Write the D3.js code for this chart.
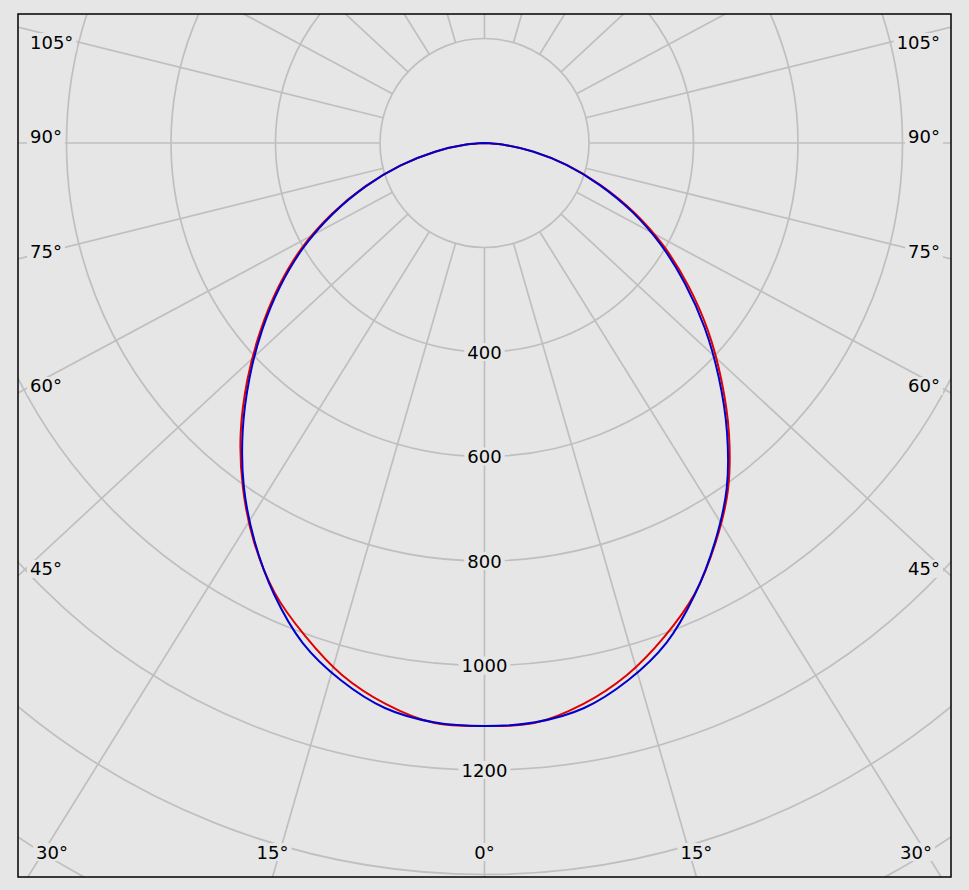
<!DOCTYPE html>
<html>
<head>
<meta charset="utf-8">
<script src="https://cdn.jsdelivr.net/npm/d3@7"></script>
<style>
  html, body { margin: 0; padding: 0; background: #e6e6e6; }
  svg { display: block; }
  text { font-family: "DejaVu Sans", Verdana, sans-serif; font-size: 18px; fill: #000; }
</style>
</head>
<body>
<svg id="chart" width="969" height="890"></svg>
<script>
// ---------- data ----------
const angles = [0, 5, 10, 15, 20, 25, 30, 35, 40, 45, 50, 55, 60, 65, 70, 75, 80, 85, 90];
// red plane (left half / right half), cd
const redLeft  = [1116, 1114, 1090, 1054, 1004, 950, 882, 806, 726, 642, 560, 482, 405, 323, 243, 167, 96, 35, 0];
const redRight = [1116, 1114, 1090, 1054, 1006, 952, 884, 812, 728, 641, 558, 476, 397, 317, 237, 164, 95, 34, 0];
// blue plane (left half / right half), cd
const blueLeft  = [1116, 1113, 1098, 1064, 1018, 953, 880, 803, 720, 636, 555, 477, 400, 320, 241, 166, 96, 35, 0];
const blueRight = [1116, 1113, 1098, 1064, 1018, 953, 882, 808, 722, 634, 550, 468, 390, 312, 234, 162, 94, 34, 0];

const ringValues = [200, 400, 600, 800, 1000, 1200, 1400, 1600, 1800];
const radialLabels = [400, 600, 800, 1000, 1200];
const spokeAngles = d3.range(0, 360, 15);
const angleLabels = [0, 15, 30, 45, 60, 75, 90, 105];

// ---------- layout ----------
const box = { left: 18, top: 14, right: 951, bottom: 877 };
const cx = (box.left + box.right) / 2;
const cy = 143;
const skew = 0.928; // vertical compression of the spoke directions in the original
const r = d3.scaleLinear().domain([0, 1200]).range([0, 627]);

const svg = d3.select("#chart");
const bg = "#e6e6e6";
const gridColor = "#bfbfbf";

svg.append("rect").attr("width", 969).attr("height", 890).attr("fill", bg);

svg.append("clipPath").attr("id", "clip")
  .append("rect")
  .attr("x", box.left).attr("y", box.top)
  .attr("width", box.right - box.left).attr("height", box.bottom - box.top);

const plot = svg.append("g").attr("clip-path", "url(#clip)");

// rings
plot.selectAll("circle.ring").data(ringValues).join("circle")
  .attr("class", "ring")
  .attr("cx", cx).attr("cy", cy).attr("r", d => r(d))
  .attr("fill", "none").attr("stroke", gridColor).attr("stroke-width", 1.7);

// spokes (direction: angle measured from straight down, positive to the right)
function dir(a) {
  const rad = a * Math.PI / 180;
  const dx = Math.sin(rad), dy = Math.cos(rad) * skew;
  const n = Math.hypot(dx, dy);
  return [dx / n, dy / n];
}
const r0 = r(ringValues[0]);
plot.selectAll("line.spoke").data(spokeAngles).join("line")
  .attr("class", "spoke")
  .attr("x1", a => cx + dir(a)[0] * r0)
  .attr("y1", a => cy + dir(a)[1] * r0)
  .attr("x2", a => cx + dir(a)[0] * 2000)
  .attr("y2", a => cy + dir(a)[1] * 2000)
  .attr("stroke", gridColor).attr("stroke-width", 1.7);

// curves
function polarPoints(left, right) {
  const pts = [];
  for (let i = angles.length - 1; i >= 0; i--) {
    const a = -angles[i] * Math.PI / 180;
    pts.push([cx + Math.sin(a) * r(left[i]), cy + Math.cos(a) * r(left[i])]);
  }
  for (let i = 1; i < angles.length; i++) {
    const a = angles[i] * Math.PI / 180;
    pts.push([cx + Math.sin(a) * r(right[i]), cy + Math.cos(a) * r(right[i])]);
  }
  return pts;
}
const line = d3.line().curve(d3.curveCatmullRom.alpha(0.5));

// labels with background
const labelLayer = svg.append("g");
function addLabel(x, y, txt, anchor) {
  const g = labelLayer.append("g");
  const rect = g.append("rect").attr("fill", bg);
  const t = g.append("text").attr("x", x).attr("y", y + 6.5)
    .attr("text-anchor", anchor).text(txt);
  const bb = t.node().getBBox();
  rect.attr("x", bb.x - 3).attr("y", y - 9).attr("width", bb.width + 6).attr("height", 18);
}

// radial value labels along the 0° spoke
radialLabels.forEach(v => addLabel(cx, cy + r(v), String(v), "middle"));

// angle labels where the spokes meet the frame
angleLabels.forEach(a => {
  [-1, 1].forEach(side => {
    if (a === 0 && side === 1) return;
    const [dx0, dy] = dir(a);
    const dx = dx0 * side;
    const ts = [];
    if (dx < 0) ts.push((box.left - cx) / dx);
    if (dx > 0) ts.push((box.right - cx) / dx);
    if (dy > 1e-9) ts.push((box.bottom - cy) / dy);
    if (dy < -1e-9) ts.push((box.top - cy) / dy);
    const t = Math.min(...ts);
    const hx = cx + dx * t, hy = cy + dy * t;
    const txt = a + "°";
    if (Math.abs(hy - box.bottom) < 0.5) {
      const x = Math.max(box.left + 34, Math.min(box.right - 35, hx));
      addLabel(x, box.bottom - 25, txt, "middle");
    } else {
      const y = Math.max(box.top + 28, hy - 7);
      if (side < 0) addLabel(box.left + 12, y, txt, "start");
      else addLabel(box.right - 11, y, txt, "end");
    }
  });
});

// curves
const curveLayer = svg.append("g").attr("clip-path", "url(#clip)");
curveLayer.append("path").attr("d", line(polarPoints(redLeft, redRight)))
  .attr("fill", "none").attr("stroke", "#e00000").attr("stroke-width", 2);
curveLayer.append("path").attr("d", line(polarPoints(blueLeft, blueRight)))
  .attr("fill", "none").attr("stroke", "#0000cc").attr("stroke-width", 2);

// frame
svg.append("rect")
  .attr("x", box.left).attr("y", box.top)
  .attr("width", box.right - box.left).attr("height", box.bottom - box.top)
  .attr("fill", "none").attr("stroke", "#000").attr("stroke-width", 1.5);
</script>
</body>
</html>
